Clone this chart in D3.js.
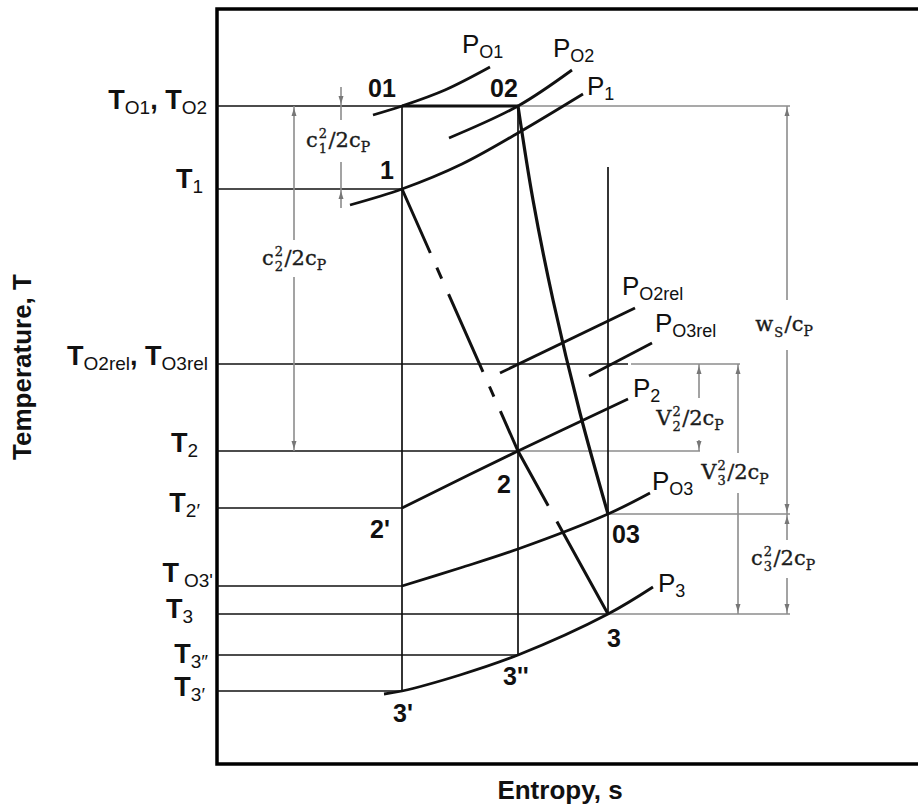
<!DOCTYPE html>
<html>
<head>
<meta charset="utf-8">
<script src="https://cdn.jsdelivr.net/npm/d3@7"></script>
<style>
  body { margin: 0; background: #fff; }
  svg { display: block; }
  text { font-family: "Liberation Sans", Arial, sans-serif; fill: #111; }
  .math text { font-family: "DejaVu Serif", serif; fill: #1c1c1c; stroke: #1c1c1c; stroke-width: 0.35; }
</style>
</head>
<body>
<svg id="chart" width="918" height="807"></svg>
<script>
// T-s diagram of a turbine stage. s and T are in arbitrary units.

// temperature levels named on the T axis, and the entropy the guide line runs to
const levels = [
  { parts: [['T', 'O1'], ['T', 'O2']], T: 6.58, to: 1.85 },
  { parts: [['T', '1']], T: 5.75, to: 1.85 },
  { parts: [['T', 'O2rel'], ['T', 'O3rel']], T: 4.00, to: 4.11 },
  { parts: [['T', '2']], T: 3.13, to: 3.01 },
  { parts: [['T', '2′']], T: 2.56, to: 1.85 },
  { parts: [['T', "O3'"]], T: 1.78, to: 1.85 },
  { parts: [['T', '3']], T: 1.50, to: 3.91 },
  { parts: [['T', '3″']], T: 1.09, to: 3.01 },
  { parts: [['T', '3′']], T: 0.73, to: 1.85 }
];

// grey extension lines feeding the dimension arrows on the right
const guides = [
  { T: 6.58, from: 3.01, to: 5.73 },
  { T: 4.00, from: 4.14, to: 5.23 },
  { T: 3.13, from: 3.01, to: 4.83 },
  { T: 2.50, from: 3.91, to: 5.73 },
  { T: 1.50, from: 3.91, to: 5.73 }
];

// constant-entropy lines
const verticals = [
  { s: 1.85, from: 0.73, to: 6.58 },
  { s: 3.01, from: 1.09, to: 6.58 },
  { s: 3.91, from: 1.50, to: 5.97 }
];

// state points
const states = [
  { id: '01', s: 1.85, T: 6.58 },
  { id: '02', s: 3.01, T: 6.58 },
  { id: '1', s: 1.85, T: 5.75 },
  { id: '2', s: 3.01, T: 3.13 },
  { id: '03', s: 3.91, T: 2.50 },
  { id: '3', s: 3.91, T: 1.50 },
  { id: "2'", s: 1.85, T: 2.56 },
  { id: "3''", s: 3.01, T: 1.09 },
  { id: "3'", s: 1.85, T: 0.73 }
];

// isobars [s, T]
const isobars = [
  { name: ['P', 'O1'], pts: [[1.56, 6.49], [1.85, 6.58], [2.28, 6.74], [2.73, 6.97]] },
  { name: ['P', 'O2'], pts: [[2.32, 6.26], [3.01, 6.58], [3.55, 6.94]] },
  { name: ['P', '1'], pts: [[1.33, 5.59], [1.85, 5.75], [2.45, 6.00], [3.01, 6.31], [3.66, 6.70]] },
  { name: ['P', 'O2rel'], pts: [[2.83, 3.91], [4.18, 4.56]] },
  { name: ['P', 'O3rel'], pts: [[3.72, 3.88], [4.35, 4.21]] },
  { name: ['P', '2'], pts: [[1.85, 2.56], [3.01, 3.13], [4.11, 3.65]] },
  { name: ['P', 'O3'], pts: [[1.85, 1.78], [2.43, 1.96], [3.01, 2.15], [3.91, 2.50], [4.33, 2.71]] },
  { name: ['P', '3'], pts: [[1.67, 0.70], [1.85, 0.73], [2.43, 0.89], [3.01, 1.09], [3.91, 1.50], [4.36, 1.77]] }
];

// processes
const throttle = [[1.85, 6.58], [3.01, 6.58]];
const rotorLine = [[3.01, 6.58], [3.16, 5.64], [3.36, 4.64], [3.63, 3.51], [3.91, 2.50]];
const staticLine = [[1.85, 5.75], [3.01, 3.13], [3.91, 1.50]];

// dimension arrows: s of the arrow, T span, T gap left for the label
const dims = [
  { m: { base: 'c', sup: '2', sub: '1', rest: '/2c', restSub: 'P' }, s: 1.24, top: 6.58, bottom: 5.75, gap: [6.44, 6.02], outside: [6.77, 5.56] },
  { m: { base: 'c', sup: '2', sub: '2', rest: '/2c', restSub: 'P' }, s: 0.77, top: 6.58, bottom: 3.13, gap: [5.24, 4.87] },
  { m: { base: 'w', sub: 'S', rest: '/c', restSub: 'P' }, s: 5.70, top: 6.58, bottom: 2.50, gap: [4.64, 4.14] },
  { m: { base: 'c', sup: '2', sub: '3', rest: '/2c', restSub: 'P' }, s: 5.70, top: 2.50, bottom: 1.50, gap: [2.24, 1.86] },
  { m: { base: 'V', sup: '2', sub: '2', rest: '/2c', restSub: 'P' }, s: 4.82, top: 4.00, bottom: 3.13, gap: [3.66, 3.24] },
  { m: { base: 'V', sup: '2', sub: '3', rest: '/2c', restSub: 'P' }, s: 5.21, top: 4.00, bottom: 1.50, gap: [3.11, 2.71] }
];

// ---- layout tweaks (pixels) ----
const levelNudge = [[0, 3], [-4, -1], [1, 1], [-9, 1], [-7, 4], [6, -4], [-14, 4], [1, 8], [-2, 5]];
const stateNudge = { '01': [-34, -9], '02': [-28, -9], '1': [-22, -10], '2': [-21, 42], '03': [4, 29],
  '3': [-1, 33], "2'": [-32, 30], "3''": [-15, 30], "3'": [-9, 31] };
const isobarNudge = [[-28, -14], [-19, -13], [4, 1], [-13, -13], [3, -11], [5, -2], [2, -3], [5, 5]];
const labelDx = [-3, 0, -3, -4, -9, -3];

const svg = d3.select('#chart');
const x = d3.scaleLinear().domain([0, 7.01]).range([217, 918]);
const y = d3.scaleLinear().domain([0, 7.55]).range([764, 9]);
const line = d3.line().x(d => x(d[0])).y(d => y(d[1]));
const curve = d3.line().x(d => x(d[0])).y(d => y(d[1])).curve(d3.curveCatmullRom.alpha(0.5));

const GREY = '#8c8c8c';
const INK = '#111';

// frame
svg.append('path')
  .attr('d', `M${x(7.01)},${y(7.55)}H${x(0)}V${y(0)}H${x(7.01)}`)
  .attr('fill', 'none').attr('stroke', '#000').attr('stroke-width', 3.5);

// grey guides
svg.append('g').selectAll('line').data(guides).join('line')
  .attr('x1', d => x(d.from)).attr('x2', d => x(d.to))
  .attr('y1', d => y(d.T)).attr('y2', d => y(d.T))
  .attr('stroke', GREY).attr('stroke-width', 1.6);

// level lines
svg.append('g').selectAll('line').data(levels).join('line')
  .attr('x1', x(0)).attr('x2', d => x(d.to))
  .attr('y1', d => y(d.T)).attr('y2', d => y(d.T))
  .attr('stroke', INK).attr('stroke-width', 1.7);

// verticals
svg.append('g').selectAll('line').data(verticals).join('line')
  .attr('x1', d => x(d.s)).attr('x2', d => x(d.s))
  .attr('y1', d => y(d.from)).attr('y2', d => y(d.to))
  .attr('stroke', INK).attr('stroke-width', 1.7);

// isobars
svg.append('g').selectAll('path').data(isobars).join('path')
  .attr('d', d => curve(d.pts))
  .attr('fill', 'none').attr('stroke', INK).attr('stroke-width', 2.8);

// processes
svg.append('path').attr('d', line(throttle))
  .attr('fill', 'none').attr('stroke', INK).attr('stroke-width', 3.2);
svg.append('path').attr('d', curve(rotorLine))
  .attr('fill', 'none').attr('stroke', INK).attr('stroke-width', 3.2);
svg.append('path').attr('d', line(staticLine))
  .attr('fill', 'none').attr('stroke', INK).attr('stroke-width', 3)
  .attr('stroke-dasharray', '70,16,12,17,85,16,11,16,106,18,220');

// scripted text: [[main, sub], ...] joined by commas
function scripted(g, px, py, parts, o) {
  const t = g.append('text').attr('x', px).attr('y', py)
    .attr('text-anchor', o.anchor || 'start');
  parts.forEach((p, i) => {
    if (i > 0) t.append('tspan').attr('dy', -o.drop)
      .style('font-size', o.size + 'px').style('font-weight', o.weight).text(', ');
    t.append('tspan').attr('dy', 0)
      .style('font-size', o.size + 'px').style('font-weight', o.weight).text(p[0]);
    t.append('tspan').attr('dy', o.drop).attr('dx', o.gap || 0)
      .style('font-size', o.subSize + 'px').style('font-weight', 'normal').text(p[1]);
  });
  return t;
}

// T axis labels
const tLab = svg.append('g');
levels.forEach((d, i) => {
  const [dx, dy] = levelNudge[i];
  scripted(tLab, 207 + dx, y(d.T) + dy, d.parts,
    { anchor: 'end', size: 27, subSize: 19, weight: 'bold', drop: 5, gap: i === 5 ? 5 : 0 });
});

// state labels
svg.append('g').selectAll('text').data(states).join('text')
  .attr('x', d => x(d.s) + stateNudge[d.id][0])
  .attr('y', d => y(d.T) + stateNudge[d.id][1])
  .style('font-size', '25px').style('font-weight', 'bold')
  .text(d => d.id);

// isobar labels
const pLab = svg.append('g');
isobars.forEach((d, i) => {
  const end = d.pts[d.pts.length - 1];
  scripted(pLab, x(end[0]) + isobarNudge[i][0], y(end[1]) + isobarNudge[i][1], [d.name],
    { size: 26, subSize: 18, weight: 'normal', drop: 5 });
});

// dimension arrows
function arrowHead(g, px, py, dir) {
  // dir +1: head sits below the line pointing up, -1: above pointing down
  const tip = py + dir * 2, base = py + dir * 10;
  g.append('path').attr('d', `M${px},${tip}L${px - 2.5},${base}L${px + 2.5},${base}Z`)
    .attr('fill', '#777');
}

// one text element per label; the stacked scripts are tspans with absolute x
function mathLabel(g, cx, cy, m) {
  const grp = g.append('g').attr('class', 'math');
  const t = grp.append('text');
  const BIG = 21, SMALL = 13;
  const base = t.append('tspan').attr('x', 0).attr('y', 0).style('font-size', BIG + 'px').text(m.base);
  let w = base.node().getComputedTextLength();
  let sw = 0;
  if (m.sup) {
    const sp = t.append('tspan').attr('x', w + 1).attr('y', -9).style('font-size', SMALL + 'px').text(m.sup);
    sw = Math.max(sw, sp.node().getComputedTextLength());
  }
  if (m.sub) {
    const sb = t.append('tspan').attr('x', w + 1).attr('y', 6).style('font-size', SMALL + 'px').text(m.sub);
    sw = Math.max(sw, sb.node().getComputedTextLength());
  }
  w += sw + 2.5;
  const rest = t.append('tspan').attr('x', w).attr('y', 0).style('font-size', BIG + 'px').text(m.rest);
  w += rest.node().getComputedTextLength();
  const rs = t.append('tspan').attr('x', w).attr('y', 5).style('font-size', SMALL + 1 + 'px').text(m.restSub);
  w += rs.node().getComputedTextLength();
  grp.attr('transform', `translate(${cx - w / 2},${cy + 6})`);
}

const dimG = svg.append('g');
dims.forEach((d, i) => {
  const px = x(d.s);
  const segs = d.outside
    ? [[d.outside[0], d.gap[0]], [d.gap[1], d.outside[1]]]
    : [[d.top, d.gap[0]], [d.gap[1], d.bottom]];
  segs.forEach(sg => dimG.append('line')
    .attr('x1', px).attr('x2', px).attr('y1', y(sg[0])).attr('y2', y(sg[1]))
    .attr('stroke', GREY).attr('stroke-width', 1.6));
  if (d.outside) {
    arrowHead(dimG, px, y(d.top), -1);
    arrowHead(dimG, px, y(d.bottom), 1);
  } else {
    arrowHead(dimG, px, y(d.top), 1);
    arrowHead(dimG, px, y(d.bottom), -1);
  }
  mathLabel(dimG, px + labelDx[i], y((d.gap[0] + d.gap[1]) / 2), d.m);
});

// axis titles
svg.append('text')
  .attr('transform', 'translate(31,367) rotate(-90)')
  .attr('text-anchor', 'middle')
  .style('font-size', '26px').style('font-weight', 'bold')
  .text('Temperature, T');
svg.append('text')
  .attr('x', 560).attr('y', 799)
  .attr('text-anchor', 'middle')
  .style('font-size', '26px').style('font-weight', 'bold')
  .text('Entropy, s');
</script>
</body>
</html>
